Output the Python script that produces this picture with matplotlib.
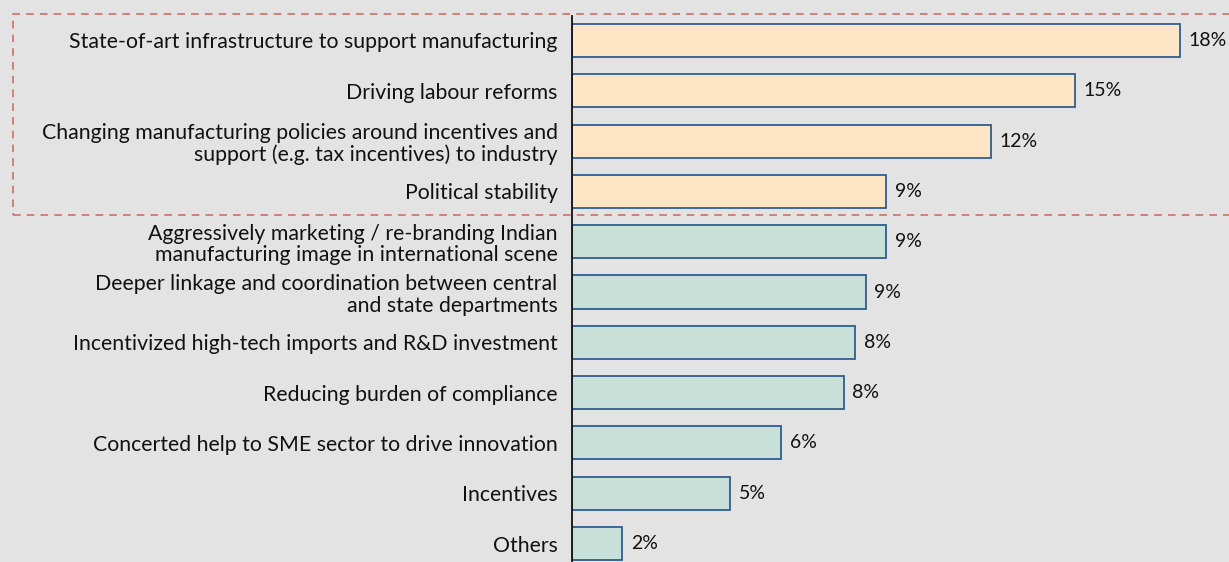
import matplotlib
matplotlib.use("Agg")
import matplotlib.pyplot as plt
from matplotlib.patches import Rectangle

plt.rcParams["font.family"] = ["Lato", "DejaVu Sans"]

categories = [
    "State-of-art infrastructure to support manufacturing",
    "Driving labour reforms",
    "Changing manufacturing policies around incentives and\nsupport (e.g. tax incentives) to industry",
    "Political stability",
    "Aggressively marketing / re-branding Indian\nmanufacturing image in international scene",
    "Deeper linkage and coordination between central\nand state departments",
    "Incentivized high-tech imports and R&D investment",
    "Reducing burden of compliance",
    "Concerted help to SME sector to drive innovation",
    "Incentives",
    "Others",
]
shares = [18.0, 14.9, 12.4, 9.3, 9.3, 8.7, 8.4, 8.05, 6.2, 4.7, 1.5]
highlighted = 4  # first rows belong to the top-priority group

bg = "#e3e3e3"
peach = "#fde5c5"
teal = "#c9e0d8"
edge = "#2f5d8f"
box_red = "#c9675a"

W, H, DPI = 1229, 562, 100
fig = plt.figure(figsize=(W / DPI, H / DPI), dpi=DPI, facecolor=bg)

ax_left, ax_top = 571.5, 15.5
ax = fig.add_axes([ax_left / W, 0, 1 - ax_left / W, 1 - ax_top / H])
ax.set_facecolor(bg)

px_per_unit = 33.8
ax.set_xlim(0, (W - ax_left) / px_per_unit)
row_px, first_px = 50.3, 40.5
ax.set_ylim((H - first_px) / row_px, (ax_top - first_px) / row_px)

ypos = list(range(len(categories)))
colors = [peach if i < highlighted else teal for i in ypos]
ax.barh(ypos, shares, height=0.66, color=colors, edgecolor=edge, linewidth=1.3)

for y, v in zip(ypos, shares):
    ax.text(v + 0.26, y, f"{v:.0f}%", va="center", ha="left", fontsize=14, color="#111111")

ax.set_yticks(ypos)
ax.set_yticklabels(categories, fontsize=15.3, color="#111111", linespacing=1.1)
for lbl in ax.get_yticklabels():
    lbl.set_horizontalalignment("right")
ax.tick_params(axis="y", length=0, pad=10)
ax.set_xticks([])

for s in ["top", "right", "bottom"]:
    ax.spines[s].set_visible(False)
ax.spines["left"].set_color("#111111")
ax.spines["left"].set_linewidth(1.3)

# dashed frame around the top-priority group
frame = Rectangle((13 / W, 1 - 214.5 / H), (W + 20 - 13) / W, (214.5 - 14) / H,
                  transform=fig.transFigure, fill=False, edgecolor=box_red,
                  linewidth=1.1, linestyle=(0, (5, 4)), clip_on=False, zorder=0)
fig.patches.append(frame)

fig.savefig("out.png", dpi=DPI, facecolor=bg)
